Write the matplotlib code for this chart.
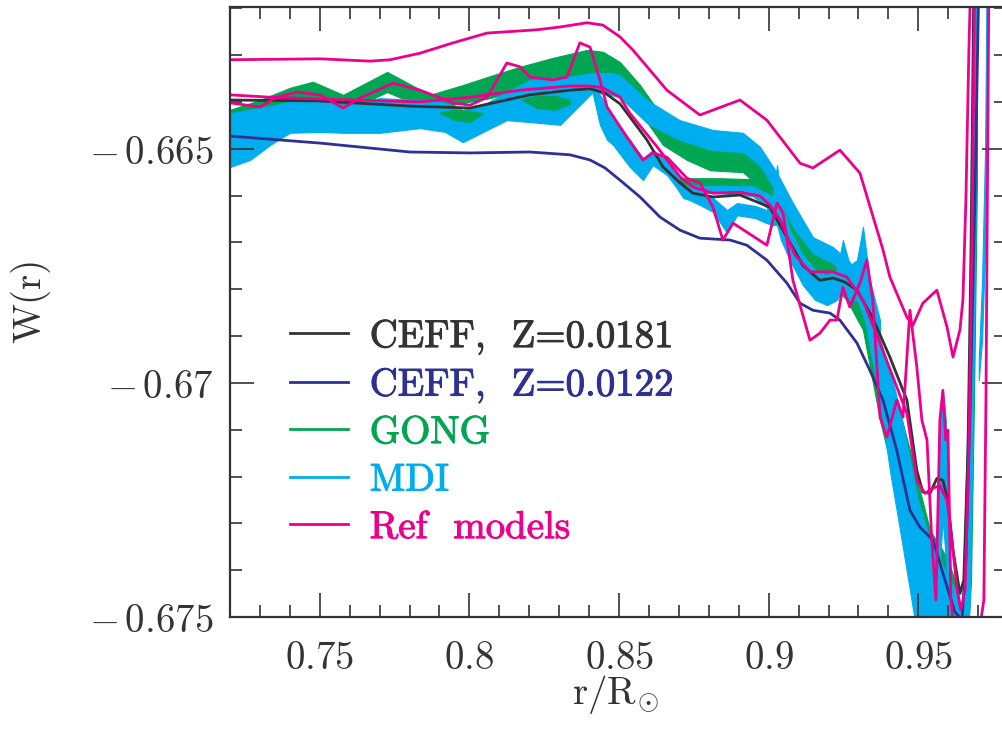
import matplotlib
matplotlib.use('Agg')
import matplotlib.pyplot as plt
from matplotlib.ticker import MultipleLocator, FuncFormatter
from matplotlib.lines import Line2D
import matplotlib.patheffects as pe

plt.rcParams['mathtext.fontset'] = 'cm'
plt.rcParams['axes.unicode_minus'] = True

# ---------------- colours ----------------
C_CEFF181 = '#333333'
C_CEFF122 = '#2e3192'
C_GONG = '#00a651'
C_MDI = '#00aeef'
C_REF = '#ec008c'
C_AXIS = '#333333'

# ---------------- labels ----------------
legend_labels = ['CEFF,  Z=0.0181', 'CEFF,  Z=0.0122', 'GONG', 'MDI', 'Ref  models']
xlabel_text = r'$\mathrm{r/R}_{\odot}$'
ylabel_text = 'W(r)'

# ---------------- CEFF models ----------------
r_ceff181 = [0.7200, 0.7501, 0.7801, 0.8002, 0.8202, 0.8336, 0.8403, 0.8453, 0.8503, 0.8536,
             0.8593, 0.8647, 0.8704, 0.8747, 0.8814, 0.8904, 0.8947, 0.9004, 0.9061, 0.9114,
             0.9171, 0.9215, 0.9255, 0.9295, 0.9348, 0.9405, 0.9462, 0.9495, 0.9515, 0.9539,
             0.9562, 0.9582, 0.9599, 0.9616, 0.9639, 0.9652, 0.9666, 0.9676, 0.9686]
w_ceff181 = [-0.66396, -0.66398, -0.66409, -0.66413, -0.66385, -0.66375, -0.66372, -0.66381, -0.66404, -0.66432,
             -0.66481, -0.66539, -0.66573, -0.66595, -0.66603, -0.66599, -0.66610, -0.66625, -0.66689, -0.66749,
             -0.66781, -0.66776, -0.66785, -0.66802, -0.66862, -0.66945, -0.67037, -0.67187, -0.67233, -0.67236,
             -0.67204, -0.67208, -0.67251, -0.67357, -0.67450, -0.67421, -0.67144, -0.66716, -0.66118]

r_ceff122 = [0.7200, 0.7501, 0.7801, 0.8002, 0.8202, 0.8336, 0.8403, 0.8453, 0.8503, 0.8570,
             0.8637, 0.8704, 0.8770, 0.8871, 0.8927, 0.8994, 0.9061, 0.9105, 0.9148, 0.9205,
             0.9238, 0.9295, 0.9338, 0.9382, 0.9428, 0.9472, 0.9505, 0.9549, 0.9589, 0.9622,
             0.9646, 0.9659, 0.9672, 0.9689, 0.9703]
w_ceff122 = [-0.66473, -0.66488, -0.66507, -0.66509, -0.66507, -0.66513, -0.66524, -0.66541, -0.66567, -0.66603,
             -0.66646, -0.66674, -0.66691, -0.66695, -0.66706, -0.66738, -0.66787, -0.66830, -0.66845, -0.66851,
             -0.66866, -0.66915, -0.66973, -0.67037, -0.67144, -0.67272, -0.67308, -0.67336, -0.67421, -0.67489,
             -0.67506, -0.67379, -0.67080, -0.66610, -0.66118]

# ---------------- reference models ----------------
r_ref_a = [0.7200, 0.7501, 0.7668, 0.7735, 0.7835, 0.7945, 0.8059, 0.8226, 0.8303, 0.8393,
           0.8446, 0.8503, 0.8546, 0.8660, 0.8770, 0.8904, 0.8994, 0.9105, 0.9148, 0.9238,
           0.9305, 0.9382, 0.9405, 0.9462, 0.9482, 0.9515, 0.9562, 0.9596, 0.9616, 0.9639,
           0.9649, 0.9659, 0.9669, 0.9676]
w_ref_a = [-0.66310, -0.66308, -0.66313, -0.66310, -0.66296, -0.66274, -0.66253, -0.66246, -0.66240, -0.66231,
           -0.66236, -0.66261, -0.66289, -0.66375, -0.66428, -0.66396, -0.66439, -0.66531, -0.66541, -0.66503,
           -0.66552, -0.66716, -0.66774, -0.66860, -0.66877, -0.66830, -0.66802, -0.66881, -0.66945, -0.66887,
           -0.66823, -0.66610, -0.66289, -0.66118]

r_ref_b = [0.7200, 0.7334, 0.7501, 0.7835, 0.8002, 0.8169, 0.8336, 0.8403, 0.8446, 0.8503,
           0.8536, 0.8627, 0.8704, 0.8747, 0.8814, 0.8904, 0.8971, 0.9004, 0.9038, 0.9088,
           0.9138, 0.9215, 0.9261, 0.9315, 0.9372, 0.9428, 0.9462, 0.9495, 0.9522, 0.9549,
           0.9572, 0.9596, 0.9612, 0.9629, 0.9642, 0.9656, 0.9669, 0.9679, 0.9689]
w_ref_b = [-0.66385, -0.66390, -0.66394, -0.66400, -0.66390, -0.66375, -0.66366, -0.66366, -0.66370, -0.66390,
           -0.66424, -0.66496, -0.66560, -0.66582, -0.66595, -0.66593, -0.66601, -0.66620, -0.66652, -0.66727,
           -0.66763, -0.66763, -0.66774, -0.66823, -0.66915, -0.67009, -0.67065, -0.67208, -0.67236, -0.67225,
           -0.67219, -0.67251, -0.67336, -0.67437, -0.67485, -0.67443, -0.67144, -0.66716, -0.66118]

r_ref_c = [0.7200, 0.7300, 0.7357, 0.7424, 0.7501, 0.7578, 0.7634, 0.7745, 0.7835, 0.7945,
           0.8002, 0.8059, 0.8125, 0.8169, 0.8202, 0.8279, 0.8326, 0.8369, 0.8403, 0.8436,
           0.8460, 0.8526, 0.8580, 0.8613, 0.8660, 0.8727, 0.8770, 0.8814, 0.8847, 0.8881,
           0.8994, 0.9028, 0.9048, 0.9081, 0.9138, 0.9171, 0.9205, 0.9228, 0.9248, 0.9271,
           0.9305, 0.9328, 0.9348, 0.9372, 0.9395, 0.9428, 0.9449, 0.9472, 0.9495, 0.9512,
           0.9529, 0.9545, 0.9559, 0.9572, 0.9582, 0.9592, 0.9599, 0.9609, 0.9622, 0.9656,
           0.9689, 0.9719, 0.9726, 0.9733, 0.9736]
w_ref_c = [-0.66402, -0.66411, -0.66390, -0.66379, -0.66385, -0.66413, -0.66392, -0.66360, -0.66375, -0.66402,
           -0.66407, -0.66390, -0.66317, -0.66325, -0.66347, -0.66353, -0.66347, -0.66274, -0.66283, -0.66353,
           -0.66411, -0.66475, -0.66524, -0.66509, -0.66518, -0.66563, -0.66573, -0.66625, -0.66695, -0.66659,
           -0.66706, -0.66616, -0.66637, -0.66781, -0.66909, -0.66894, -0.66866, -0.66866, -0.66796, -0.66838,
           -0.66787, -0.66738, -0.66823, -0.67073, -0.67116, -0.67037, -0.67073, -0.66845, -0.66966, -0.67080,
           -0.67122, -0.67336, -0.67464, -0.67080, -0.67016, -0.67122, -0.67101, -0.67464, -0.67550, -0.67593,
           -0.67593, -0.67464, -0.67037, -0.66396, -0.66118]

# ---------------- GONG inversions (envelopes of the bundle) ----------------
r_gong_main = [0.7200, 0.7300, 0.7400, 0.7477, 0.7578, 0.7725, 0.7868, 0.7978, 0.8069, 0.8169,
               0.8279, 0.8393, 0.8446, 0.8503, 0.8570, 0.8647, 0.8727, 0.8804, 0.8914, 0.8981,
               0.9028, 0.9071, 0.9128, 0.9195, 0.9261, 0.9315, 0.9372, 0.9428, 0.9472, 0.9505,
               0.9539, 0.9572, 0.9599, 0.9622, 0.9646, 0.9662, 0.9676, 0.9686, 0.9696]
w_gong_main_hi = [-0.66417, -0.66396, -0.66370, -0.66357, -0.66385, -0.66336, -0.66385, -0.66364, -0.66345, -0.66325,
                  -0.66306, -0.66289, -0.66293, -0.66315, -0.66364, -0.66434, -0.66486, -0.66503, -0.66503, -0.66535,
                  -0.66588, -0.66635, -0.66685, -0.66721, -0.66759, -0.66802, -0.66920, -0.67037, -0.67144, -0.67229,
                  -0.67315, -0.67347, -0.67379, -0.67421, -0.67500, -0.67165, -0.66866, -0.66439, -0.66118]
w_gong_main_lo = [-0.66456, -0.66443, -0.66417, -0.66402, -0.66422, -0.66379, -0.66417, -0.66402, -0.66392, -0.66375,
                  -0.66357, -0.66343, -0.66349, -0.66370, -0.66422, -0.66492, -0.66524, -0.66546, -0.66550, -0.66588,
                  -0.66627, -0.66678, -0.66742, -0.66781, -0.66823, -0.66887, -0.67080, -0.67229, -0.67379, -0.67464,
                  -0.67500, -0.67528, -0.67550, -0.67571, -0.67593, -0.67593, -0.67421, -0.67037, -0.66567]

r_gong_thin = [0.8703, 0.8837, 0.8947, 0.9004]
w_gong_thin_hi = [-0.66563, -0.66563, -0.66565, -0.66584]
w_gong_thin_lo = [-0.66578, -0.66580, -0.66582, -0.66601]

r_gong_gap1 = [0.7902, 0.7952, 0.8002, 0.8042]
w_gong_gap1_hi = [-0.66422, -0.66417, -0.66419, -0.66424]
w_gong_gap1_lo = [-0.66424, -0.66439, -0.66443, -0.66426]

r_gong_gap2 = [0.8176, 0.8226, 0.8286, 0.8336]
w_gong_gap2_hi = [-0.66394, -0.66387, -0.66387, -0.66396]
w_gong_gap2_lo = [-0.66396, -0.66413, -0.66417, -0.66404]

# ---------------- MDI inversions (envelopes of the bundle) ----------------
r_mdi_main = [0.7200, 0.7267, 0.7334, 0.7400, 0.7501, 0.7578, 0.7701, 0.7835, 0.7918, 0.7978,
              0.8059, 0.8125, 0.8202, 0.8303, 0.8369, 0.8413, 0.8470, 0.8503, 0.8593, 0.8703,
              0.8814, 0.8914, 0.8971, 0.9028, 0.9081, 0.9148, 0.9215, 0.9271, 0.9322, 0.9372,
              0.9405, 0.9439, 0.9472, 0.9499, 0.9539, 0.9589, 0.9622, 0.9646, 0.9659, 0.9672,
              0.9682, 0.9692]
w_mdi_main_hi = [-0.66424, -0.66417, -0.66409, -0.66400, -0.66392, -0.66407, -0.66392, -0.66396, -0.66402, -0.66417,
                 -0.66402, -0.66379, -0.66353, -0.66349, -0.66343, -0.66338, -0.66338, -0.66343, -0.66396, -0.66439,
                 -0.66460, -0.66466, -0.66496, -0.66552, -0.66616, -0.66689, -0.66710, -0.66742, -0.66802, -0.66909,
                 -0.66973, -0.67058, -0.67165, -0.67251, -0.67336, -0.67400, -0.67443, -0.67500, -0.67208, -0.66866,
                 -0.66439, -0.66118]
w_mdi_main_lo = [-0.66539, -0.66524, -0.66492, -0.66466, -0.66464, -0.66466, -0.66466, -0.66456, -0.66464, -0.66486,
                 -0.66460, -0.66439, -0.66443, -0.66449, -0.66407, -0.66379, -0.66385, -0.66390, -0.66445, -0.66481,
                 -0.66503, -0.66507, -0.66535, -0.66595, -0.66667, -0.66723, -0.66744, -0.66781, -0.66866, -0.67037,
                 -0.67187, -0.67315, -0.67443, -0.67550, -0.67550, -0.67550, -0.67571, -0.67593, -0.67593, -0.67464,
                 -0.67080, -0.66610]

r_mdi_spike = [0.8413, 0.8436, 0.8460, 0.8480, 0.8536, 0.8580, 0.8613, 0.8660, 0.8693, 0.8714,
               0.8737, 0.8770, 0.8814, 0.8861, 0.8894, 0.8954, 0.8994, 0.9014, 0.9028, 0.9041,
               0.9071, 0.9114, 0.9155, 0.9195, 0.9228, 0.9248, 0.9271, 0.9295, 0.9315, 0.9338,
               0.9372]
w_mdi_spike_hi = [-0.66364, -0.66385, -0.66409, -0.66432, -0.66481, -0.66520, -0.66503, -0.66524, -0.66556, -0.66578,
                  -0.66584, -0.66593, -0.66605, -0.66631, -0.66616, -0.66622, -0.66631, -0.66599, -0.66535, -0.66610,
                  -0.66674, -0.66727, -0.66759, -0.66770, -0.66759, -0.66695, -0.66749, -0.66738, -0.66667, -0.66781,
                  -0.66866]
w_mdi_spike_lo = [-0.66385, -0.66449, -0.66481, -0.66492, -0.66539, -0.66567, -0.66535, -0.66556, -0.66584, -0.66605,
                  -0.66610, -0.66620, -0.66635, -0.66680, -0.66642, -0.66648, -0.66659, -0.66663, -0.66663, -0.66695,
                  -0.66738, -0.66791, -0.66823, -0.66834, -0.66823, -0.66802, -0.66823, -0.66823, -0.66823, -0.66887,
                  -0.66994]

r_mdi_mid = [0.8703, 0.8837, 0.8947, 0.9004, 0.9054]
w_mdi_mid_hi = [-0.66578, -0.66580, -0.66580, -0.66599, -0.66642]
w_mdi_mid_lo = [-0.66593, -0.66595, -0.66601, -0.66631, -0.66685]

r_mdi_tail = [0.9559, 0.9572, 0.9582, 0.9592, 0.9606]
w_mdi_tail_hi = [-0.67464, -0.67101, -0.67016, -0.67080, -0.67464]
w_mdi_tail_lo = [-0.67500, -0.67379, -0.67293, -0.67379, -0.67500]

r_mdi_edge = [0.9702, 0.9713, 0.9723, 0.9729]
w_mdi_edge_hi = [-0.66951, -0.66781, -0.66503, -0.66118]
w_mdi_edge_lo = [-0.66994, -0.66909, -0.66716, -0.66289]

# ---------------- figure ----------------
FS = 28
fig = plt.figure(figsize=(10.02, 7.30), dpi=100)
ax = fig.add_axes([0.22954, 0.15479, 0.77445, 0.83521])


def band(r, hi, lo, color):
    ax.fill_between(r, lo, hi, facecolor=color, edgecolor=color, lw=0.8)


band(r_gong_main, w_gong_main_hi, w_gong_main_lo, C_GONG)
band(r_mdi_main, w_mdi_main_hi, w_mdi_main_lo, C_MDI)
band(r_mdi_spike, w_mdi_spike_hi, w_mdi_spike_lo, C_MDI)
band(r_mdi_tail, w_mdi_tail_hi, w_mdi_tail_lo, C_MDI)
band(r_mdi_edge, w_mdi_edge_hi, w_mdi_edge_lo, C_MDI)
band(r_gong_thin, w_gong_thin_hi, w_gong_thin_lo, C_GONG)
band(r_mdi_mid, w_mdi_mid_hi, w_mdi_mid_lo, C_MDI)
band(r_gong_gap1, w_gong_gap1_hi, w_gong_gap1_lo, C_GONG)
band(r_gong_gap2, w_gong_gap2_hi, w_gong_gap2_lo, C_GONG)

LW = 2.0
kw = dict(lw=LW, solid_joinstyle='round', solid_capstyle='round')
ax.plot(r_ceff181, w_ceff181, color=C_CEFF181, **kw)
ax.plot(r_ceff122, w_ceff122, color=C_CEFF122, **kw)
ax.plot(r_ref_a, w_ref_a, color=C_REF, **kw)
ax.plot(r_ref_b, w_ref_b, color=C_REF, **kw)
ax.plot(r_ref_c, w_ref_c, color=C_REF, **kw)

ax.set_xlim(0.72, 0.9793)
ax.set_ylim(-0.675, -0.66198)

ax.xaxis.set_major_locator(MultipleLocator(0.05))
ax.xaxis.set_minor_locator(MultipleLocator(0.01))
ax.yaxis.set_major_locator(MultipleLocator(0.005))
ax.yaxis.set_minor_locator(MultipleLocator(0.001))


def tick_fmt(v, p):
    s = '%g' % round(v, 4)
    if s.startswith('-'):
        return r'$-\,%s$' % s[1:]
    return '$%s$' % s


ax.xaxis.set_major_formatter(FuncFormatter(tick_fmt))
ax.yaxis.set_major_formatter(FuncFormatter(tick_fmt))

ax.tick_params(which='both', direction='in', top=True, right=True, color=C_AXIS,
               width=1.2, labelsize=FS, labelcolor=C_AXIS)
ax.tick_params(which='major', length=17.5)
ax.tick_params(which='minor', length=8.6)
ax.tick_params(axis='x', which='major', pad=16)
ax.tick_params(axis='y', which='major', pad=12)
for s in ax.spines.values():
    s.set_color(C_AXIS)
    s.set_linewidth(1.6)

fig.text(30 / 1002, 1 - 300 / 730, ylabel_text, rotation=90, ha='center', va='center',
         fontsize=FS, family='cmr10', color=C_AXIS)
fig.text(615 / 1002, 1 - 695 / 730, xlabel_text, ha='center', va='center',
         fontsize=FS, color=C_AXIS)

colors = [C_CEFF181, C_CEFF122, C_GONG, C_MDI, C_REF]
handles = [Line2D([], [], color=c, lw=LW) for c in colors]
leg = ax.legend(handles, legend_labels, loc='upper left', bbox_to_anchor=(0.0773, 0.490),
                frameon=False, prop={'family': 'cmr10', 'size': FS}, labelcolor='linecolor',
                handlelength=1.5, handletextpad=0.55, labelspacing=0.30,
                borderpad=0, borderaxespad=0)
for t in leg.get_texts():
    t.set_path_effects([pe.withStroke(linewidth=0.7, foreground=t.get_color())])

fig.savefig('out.png', dpi=100)
